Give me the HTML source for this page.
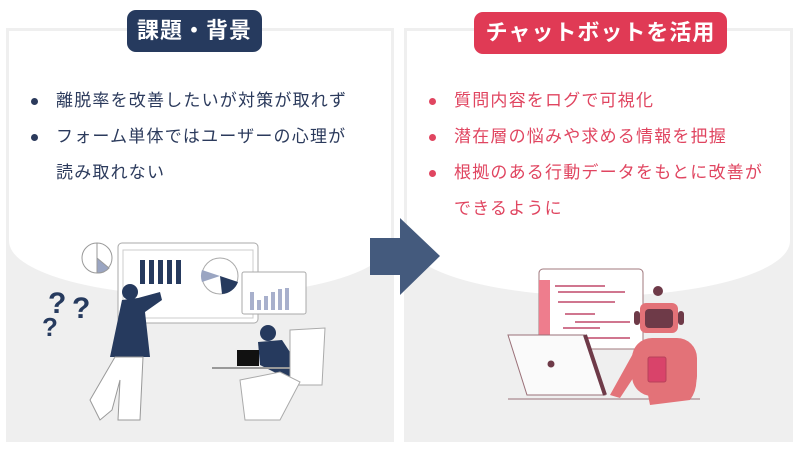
<!DOCTYPE html>
<html><head><meta charset="utf-8"><style>
body{margin:0;width:800px;height:450px;background:#fff;position:relative;overflow:hidden;font-family:"Liberation Sans","Noto Sans CJK JP",sans-serif}
.panel{position:absolute;top:28px;height:414px;background:#efefef}
.white{position:absolute;left:3px;right:3px;top:3px;height:265px;background:#fff;border-radius:0 0 50% 50%/0 0 55px 55px}
.pill{position:absolute;color:#fff;font-weight:bold;font-size:22px;border-radius:9px;text-align:center;line-height:42px;letter-spacing:1px}
ul{position:absolute;margin:0;padding:0;list-style:none;font-size:17px;letter-spacing:1.2px}
li{position:relative;padding-left:28px;line-height:36px}
li:before{content:"";position:absolute;left:3px;top:15px;width:7px;height:7px;border-radius:50%}
.l li{color:#2b3a5c}.l li:before{background:#2b3a5c}
.r li{color:#e04560}.r li:before{background:#e04560}
svg{position:absolute;left:0;top:0}
</style></head><body>
<div class="panel" style="left:6px;width:388px"><div class="white"></div></div>
<div class="panel" style="left:404px;width:389px"><div class="white"></div></div>
<div class="pill" style="left:127px;top:10px;width:135px;background:#263a5e">課題・背景</div>
<div class="pill" style="left:474px;top:12px;width:253px;background:#e03a55">チャットボットを活用</div>
<ul class="l" style="left:28px;top:83px"><li>離脱率を改善したいが対策が取れず</li><li>フォーム単体ではユーザーの心理が<br>読み取れない</li></ul>
<ul class="r" style="left:426px;top:83px"><li>質問内容をログで可視化</li><li>潜在層の悩みや求める情報を把握</li><li>根拠のある行動データをもとに改善が<br>できるように</li></ul>
<svg width="800" height="450">
<polygon points="370,238 400,238 400,218 440,256 400,295 400,275 370,275" fill="#445a7d"/>
<circle cx="97" cy="258" r="15" fill="#fff" stroke="#999"/><path d="M97,258 L97,243 M97,258 L109,268 A15,15 0 0 1 97,273Z" fill="#9aa5c2" stroke="#999"/>
<rect x="118" y="243" width="140" height="80" rx="4" fill="#fff" stroke="#aaa"/>
<rect x="123" y="250" width="130" height="68" fill="#fff" stroke="#ccc"/>
<g fill="#263a5e"><rect x="140" y="260" width="5" height="24"/><rect x="149" y="260" width="5" height="24"/><rect x="158" y="260" width="5" height="24"/><rect x="167" y="260" width="5" height="24"/><rect x="176" y="260" width="5" height="24"/></g>
<circle cx="220" cy="276" r="18" fill="#fff" stroke="#aaa"/><path d="M220,276 L222,294 A18,18 0 0 0 238,282Z" fill="#263a5e"/><path d="M220,276 L202,270 A18,18 0 0 0 202,282Z" fill="#9aa5c2"/>
<rect x="242" y="272" width="64" height="42" rx="2" fill="#fff" stroke="#aaa"/>
<g fill="#a8b0cc"><rect x="250" y="292" width="4" height="18"/><rect x="257" y="300" width="4" height="10"/><rect x="264" y="296" width="4" height="14"/><rect x="271" y="292" width="4" height="18"/><rect x="278" y="289" width="4" height="21"/><rect x="285" y="288" width="4" height="22"/></g>
<text x="48" y="313" font-size="30" font-weight="bold" fill="#263a5e">?</text><text x="72" y="318" font-size="30" font-weight="bold" fill="#263a5e">?</text><text x="42" y="336" font-size="26" font-weight="bold" fill="#263a5e">?</text>
<path d="M122,300 L138,298 L160,292 L162,300 L145,312 L150,357 L110,357Z" fill="#263a5e"/>
<circle cx="130" cy="292" r="8" fill="#263a5e"/>
<path d="M115,357 L90,400 L100,420 L112,410 L120,380 L118,420 L140,420 L143,357Z" fill="#fff" stroke="#999"/>
<circle cx="268" cy="333" r="8" fill="#263a5e"/>
<path d="M258,342 L282,340 L305,375 L290,380 L260,365Z" fill="#263a5e"/>
<rect x="237" y="350" width="22" height="16" fill="#111"/>
<line x1="212" y1="368" x2="296" y2="368" stroke="#999" stroke-width="2"/>
<path d="M290,330 L325,328 L322,385 L290,385Z" fill="#fff" stroke="#aaa"/>
<path d="M240,380 L280,372 L300,382 L280,420 L245,420Z" fill="#fff" stroke="#aaa"/>
<rect x="539" y="269" width="104" height="80" rx="4" fill="#fff" stroke="#a0787e"/>
<rect x="539" y="280" width="11" height="60" fill="#ee7d8d"/>
<g stroke="#c0486a" stroke-width="1.5"><line x1="555" y1="286" x2="605" y2="286"/><line x1="558" y1="292" x2="625" y2="292"/><line x1="558" y1="302" x2="615" y2="302"/><line x1="565" y1="314" x2="595" y2="314"/><line x1="575" y1="322" x2="630" y2="322"/><line x1="563" y1="328" x2="600" y2="328"/><line x1="580" y1="338" x2="630" y2="338"/></g>
<path d="M508,335 L585,335 L605,395 L527,395Z" fill="#fafafa" stroke="#9a7078"/>
<line x1="585" y1="335" x2="605" y2="395" stroke="#6e3a48" stroke-width="4"/>
<circle cx="551" cy="364" r="3.5" fill="#6e3a48"/>
<line x1="508" y1="399" x2="700" y2="399" stroke="#9a7078"/>
<circle cx="658" cy="291" r="5" fill="#6e3a48"/>
<rect x="640" y="303" width="38" height="30" rx="6" fill="#e37278"/><rect x="645" y="309" width="28" height="19" rx="4" fill="#6e3a48"/>
<rect x="634" y="311" width="6" height="14" rx="3" fill="#6e3a48"/><rect x="678" y="311" width="6" height="14" rx="3" fill="#6e3a48"/>
<rect x="632" y="338" width="65" height="58" rx="20" fill="#e37278"/>
<rect x="648" y="357" width="18" height="25" rx="2" fill="#d9436a" stroke="#b8425a"/>
<path d="M635,350 L610,395 L620,398 L645,360Z" fill="#e37278"/>
<path d="M685,345 Q705,380 690,400 L650,405 L648,395 L685,390 Q695,375 680,350Z" fill="#e37278"/>
</svg>
</body></html>
